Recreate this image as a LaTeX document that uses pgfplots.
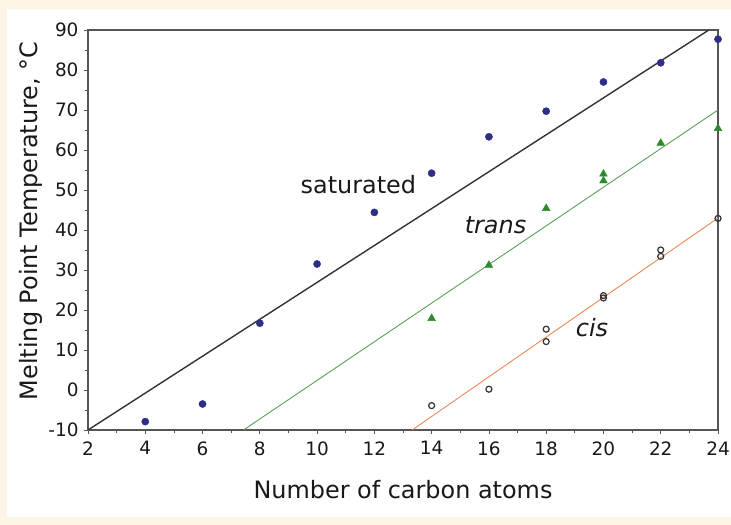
\documentclass[border=0pt]{standalone}
\usepackage{fontspec}
\setmainfont{DejaVu Sans}
\usepackage{pgfplots}
\pgfplotsset{compat=1.18}
\definecolor{cream}{HTML}{FDF6E7}
\definecolor{satblue}{HTML}{2E2E86}
\definecolor{transgreen}{HTML}{2F8A2F}
\definecolor{cisorange}{HTML}{E8895A}
\definecolor{axisgray}{HTML}{555555}

\begin{document}
\begin{tikzpicture}
\clip (0,0) rectangle (731bp,525bp);
\fill[cream] (0,0) rectangle (731bp,525bp);
\fill[white] (7bp,8bp) rectangle (731bp,516bp);
\begin{axis}[
  at={(88bp,95bp)}, anchor=south west,
  scale only axis, width=630bp, height=400bp,
  xmin=2, xmax=24, ymin=-10, ymax=90,
  xtick={2,4,...,24}, ytick={-10,0,...,90},
  minor x tick num=1, minor y tick num=1,
  tick align=outside, xtick pos=left, ytick pos=left,
  major tick length=4bp, minor tick length=2.5bp,
  axis line style={axisgray, line width=2bp},
  every tick/.style={axisgray, line width=0.8bp},
  tick label style={font=\fontsize{18.5}{20}\selectfont, text=black!90},
  xticklabel style={yshift=-4bp},
  yticklabel style={xshift=-2bp},
  /pgf/number format/assume math mode=true,
  xlabel={Number of carbon atoms},
  ylabel={Melting Point Temperature, °C},
  label style={font=\fontsize{24}{26}\selectfont, text=black!90},
  x label style={at={(axis description cs:0.5,-0.15)}, anchor=center},
  y label style={at={(axis description cs:-0.09,0.5225)}, anchor=center},
  clip=true,
]
% fitted lines
\addplot[black!80, line width=1.4bp] coordinates {(2,-10) (23.68,90)};
\addplot[transgreen!80, line width=0.9bp] coordinates {(7.43,-10) (24,70)};
\addplot[cisorange, line width=0.9bp] coordinates {(13.32,-10) (24,43)};
% saturated
\addplot[only marks, mark=*, mark size=3.6bp, satblue, mark options={fill=satblue, draw=satblue}] coordinates {
  (4,-7.9) (6,-3.5) (8,16.7) (10,31.5) (12,44.4) (14,54.2) (16,63.3) (18,69.7) (20,77.0) (22,81.8) (24,87.7)};
% trans
\addplot[only marks, mark=triangle*, mark size=4.5bp, transgreen, mark options={fill=transgreen, draw=transgreen}] coordinates {
  (14,17.9) (16,31.2) (18,45.4) (20,54.0) (20,52.3) (22,61.7) (24,65.4)};
% cis
\addplot[only marks, mark=o, mark size=3bp, black!80, mark options={line width=1.2bp}] coordinates {
  (14,-3.9) (16,0.2) (18,15.2) (18,12.1) (20,23.6) (20,23.0) (22,35.0) (22,33.4) (24,42.9)};
\node[font=\fontsize{24}{26}\selectfont, text=black!90] at (axis cs:11.44,51.3) {saturated};
\node[font=\fontsize{24}{26}\selectfont\itshape, text=black!90] at (axis cs:16.23,41.3) {trans};
\node[font=\fontsize{24}{26}\selectfont\itshape, text=black!90] at (axis cs:19.6,15.5) {cis};
\end{axis}
\end{tikzpicture}
\end{document}
